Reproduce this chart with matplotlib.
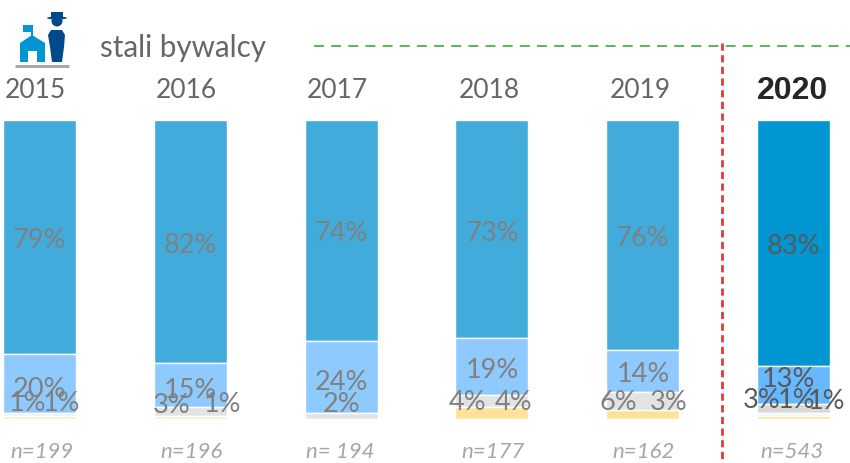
import matplotlib
matplotlib.use('Agg')
import numpy as np
import matplotlib.pyplot as plt
from matplotlib.patches import Polygon, Circle, Ellipse, Rectangle, FancyBboxPatch

lata = ['2015', '2016', '2017', '2018', '2019', '2020']
liczebnosc = ['n=199', 'n=196', 'n= 194', 'n=177', 'n=162', 'n=543']

seria_1 = [79, 82, 74, 73, 76, 83]
seria_2 = [20, 15, 24, 19, 14, 13]
seria_3 = [1, 3, 2, 4, 6, 3]
seria_4 = [0, 0, 0, 0, 0, 1]
seria_5 = [1, 1, 0, 4, 3, 1]

# kolory: 2015-2019 i osobno 2020
kolory = ['#41acdb', '#8fcaff', '#e3e3e3', '#f2f2f2', '#ffe29a']
kolory_2020 = ['#0096d1', '#66b8ff', '#d9d9d9', '#f5f5f5', '#ffe49c']

# przesuniecia etykiet w pikselach (dx, dy) wzgledem srodka segmentu
przesuniecia = [
    [(0, 3), (0, 5), (-12, -12), None, (22, -15)],
    [(0, 3), (0, 4), (-19, -7), None, (32, -14)],
    [(0, 2), (0, 4), (0, -13), None, None],
    [(0, 3), (1, 3), (-24, 0), None, (22, -12)],
    [(0, 3), (1, 3), (-24, 1), None, (26, -13)],
    [(0, 3), (-5, -7), (-32, -9), (3, -15), (33, -17)],
]
przesuniecia_n = [2, 1, -1, 1, 1, -2]
przesuniecia_lat = [-4, -4, -4, -3, -2, -1]
ROZSTAW = 150.8
SRODEK_0 = 39.5
PX_NA_PROC = 3.0

fig = plt.figure(figsize=(8.5, 4.64), dpi=100)
plt.rcParams['font.family'] = ['Lato', 'DejaVu Sans']
ax = fig.add_axes([0, 0, 1, 1])
ax.set_xlim(-SRODEK_0 / ROZSTAW, (850 - SRODEK_0) / ROZSTAW)
ax.set_ylim(-44 / PX_NA_PROC, 100 + 121 / PX_NA_PROC)
ax.axis('off')

serie = np.array([seria_1, seria_2, seria_3, seria_4, seria_5], dtype=float)
procenty = serie / serie.sum(axis=0) * 100

for i, rok in enumerate(lata):
    nowy = rok == '2020'
    kol = kolory_2020 if nowy else kolory
    kolor_tekstu = '#595959' if nowy else '#808080'
    gora = 100.0
    for s in range(5):
        if serie[s, i] == 0:
            continue
        h = procenty[s, i]
        c = kol[s]
        if i == 0 and s == 2:
            c = '#f0f0f0'
        if i < 2 and s == 4:
            c = '#ffedc4'
        ax.bar(i, h, bottom=gora - h, width=73 / ROZSTAW, color=c, edgecolor='white', linewidth=1.0, zorder=2)
        dx, dy = przesuniecia[i][s]
        ax.annotate(f'{int(serie[s, i])}%', xy=(i, gora - h / 2), xytext=(dx, -dy),
                    textcoords='offset pixels', ha='center', va='center',
                    fontsize=19.5, color=kolor_tekstu, zorder=3)
        gora -= h
    if nowy:
        ax.annotate(rok, xy=(i, 110), xytext=(przesuniecia_lat[i], 0), textcoords='offset pixels',
                    ha='center', va='center', fontsize=23, fontweight='bold',
                    family=['Liberation Sans'], color='#262626')
    else:
        ax.annotate(rok, xy=(i, 110), xytext=(przesuniecia_lat[i], 0), textcoords='offset pixels',
                    ha='center', va='center', fontsize=19, color='#666666')
    ax.annotate(liczebnosc[i], xy=(i, -10.6), xytext=(przesuniecia_n[i], 0), textcoords='offset pixels',
                ha='center', va='center', fontsize=16, style='italic', color='#a6a6a6')

# warstwa w pikselach: ikona, tytul, linie
nak = fig.add_axes([0, 0, 1, 1])
nak.set_xlim(0, 850)
nak.set_ylim(464, 0)
nak.axis('off')
nak.patch.set_alpha(0)

nak.text(100, 48, 'stali bywalcy', ha='left', va='center', fontsize=21.3, color='#666666')
nak.plot([314, 850], [47, 47], color='#4caf50', lw=1.3, dashes=(5.5, 4))
nak.plot([722, 722], [44, 464], color='#e53935', lw=2, dashes=(2.6, 1.6))

szkola = '#0096d1'
ciemny = '#004a8c'
nak.add_patch(FancyBboxPatch((16, 66.5), 53, 2, boxstyle='round,pad=0.5', fc='#a6a6a6', ec='none'))
nak.add_patch(Polygon([(20, 63), (20, 44), (32, 36), (45, 44), (45, 63), (37, 63), (37, 52), (28, 52), (28, 63)], fc=szkola, ec='none'))
nak.add_patch(Rectangle((31, 27), 2, 10, fc=szkola, ec='none'))
nak.add_patch(Rectangle((23, 26), 10, 7, fc=szkola, ec='none'))
nak.add_patch(Polygon([(48, 36), (51, 31), (62, 31), (65, 36), (64, 48), (62, 63), (52, 63), (50, 48)], fc=ciemny, ec='none'))
nak.add_patch(Circle((57, 22), 5.5, fc=ciemny, ec='none'))
nak.add_patch(Ellipse((57, 19), 20, 3, fc=ciemny, ec='none'))
nak.add_patch(Rectangle((51, 13), 12, 6, fc=ciemny, ec='none'))

fig.savefig('out.png', dpi=100)
